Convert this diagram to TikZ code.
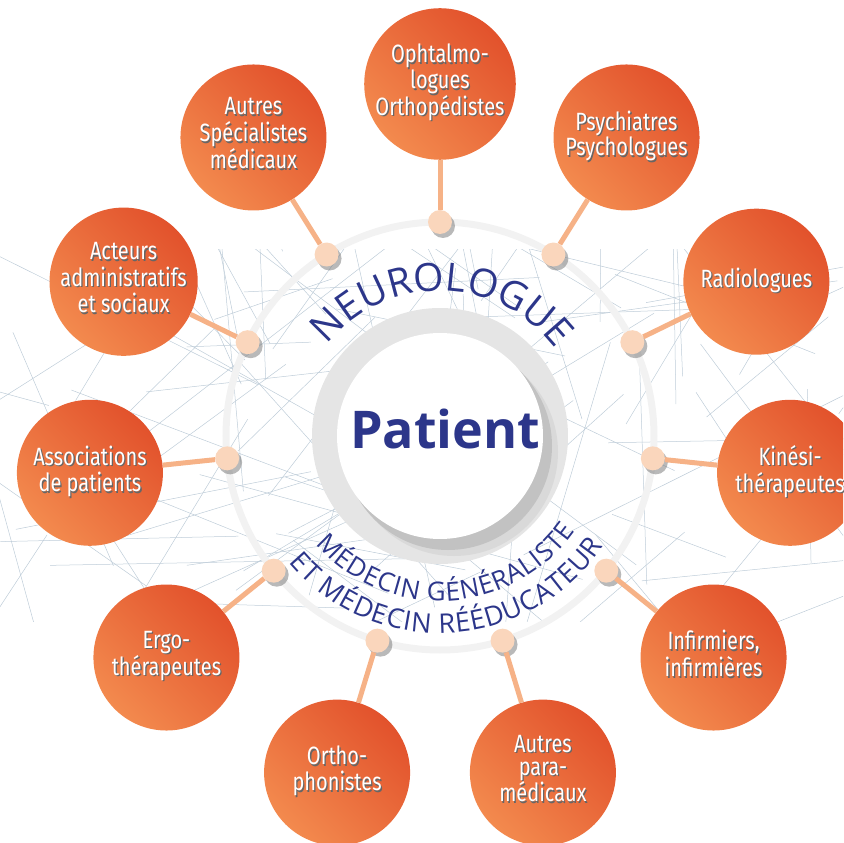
\documentclass[tikz,border=0pt]{standalone}
\usepackage{fontspec}
\setmainfont{Open Sans}
\newfontfamily\bubblefont[FakeStretch=0.8]{Fira Sans}
\usetikzlibrary{shadows,decorations.text}

\definecolor{patientblue}{RGB}{44,54,138}
\definecolor{bubbledark}{RGB}{226,82,44}
\definecolor{bubblelight}{RGB}{243,138,78}
\definecolor{dotfill}{RGB}{250,214,188}
\definecolor{linkcol}{RGB}{246,178,135}
\definecolor{netcol}{RGB}{190,204,216}

\newcommand\arcbig{\fontsize{39}{39}\selectfont}
\newcommand\arcmid{\fontsize{26}{26}\selectfont}
\newcommand\arcsmall{\fontsize{27}{27}\selectfont}
\newcommand\bubbletext[1]{\makebox[0pt][l]{\raisebox{-1.5pt}{\hspace{1.3pt}\textcolor{black!60}{\begin{tabular}{@{}c@{}}#1\end{tabular}}}}\begin{tabular}{@{}c@{}}#1\end{tabular}}

\begin{document}
\begin{tikzpicture}[x=1pt, y=1pt,
    bubble/.style={circle, minimum size=146pt, inner sep=0pt, top color=bubbledark, bottom color=bubblelight, shading angle=-45, text=white, font=\bubblefont\fontsize{25}{23}\selectfont},
    dot/.style={circle, minimum size=24pt, inner sep=0pt, fill=dotfill, drop shadow={shadow xshift=3pt, shadow yshift=-4pt, fill=black!55, opacity=0.5}},
    link/.style={draw=linkcol, line width=5pt},
    net/.style={draw=netcol, line width=0.5pt}]

    \useasboundingbox (-440,-407) rectangle (403,436);
    \clip (-440,-407) rectangle (403,436);

    % network band behind
    \begin{scope}
        \clip (-440,186) rectangle (403,-185);
        \pgfmathsetseed{11}
        \foreach \i in {1,...,120}{
            \pgfmathsetmacro\xa{-480+rnd*920}
            \pgfmathsetmacro\ya{-220+rnd*440}
            \pgfmathsetmacro\ang{rnd*180}
            \pgfmathsetmacro\len{120+rnd*280}
            \draw[net] (\xa,\ya) -- ++(\ang:\len);
        }
    \end{scope}

    \draw[black!5, line width=7pt] (0,0) circle[radius=214];

    \fill[black!10] (0,0) circle[radius=128];
    \fill[black!15] (14,-16) circle[radius=104];
    \fill[black!24] (8,-10) circle[radius=104];
    \fill[white] (0,0) circle[radius=103];

    \node[text=patientblue, font=\fontsize{52}{52}\selectfont\bfseries, anchor=base] (patient) at (5,-13) {Patient};

    {\arcbig
    \path[decorate, decoration={text along path, text align=fit to path, text color=patientblue, text={|\arcbig|NEUROLOGUE}}] (141:145) arc[start angle=141, end angle=40, radius=145];}
    {\arcmid
    \path[decorate, decoration={text along path, text align=fit to path, text color=patientblue, text={|\arcmid|MÉDECIN GÉNÉRALISTE}}] (221:165) arc[start angle=221, end angle=325, radius=165];}
    {\arcsmall
    \path[decorate, decoration={text along path, text align=fit to path, text color=patientblue, text={|\arcsmall|ET MÉDECIN RÉÉDUCATEUR}}] (220:197) arc[start angle=220, end angle=326, radius=197];}

    \node[dot] (d-ophta)   at (90:214)   {};
    \node[dot] (d-psy)     at (58:214)   {};
    \node[dot] (d-radio)   at (26:214)   {};
    \node[dot] (d-kine)    at (-6:214)   {};
    \node[dot] (d-infi)    at (-39:214)  {};
    \node[dot] (d-para)    at (-73:214)  {};
    \node[dot] (d-ortho)   at (-107:214) {};
    \node[dot] (d-ergo)    at (-141:214) {};
    \node[dot] (d-asso)    at (-174:214) {};
    \node[dot] (d-acteurs) at (154:214)  {};
    \node[dot] (d-autres)  at (122:214)  {};

    \node[bubble] (ophta)   at (90:352)   {\bubbletext{Ophtalmo-\\logues\\Orthopédistes}};
    \node[bubble] (psy)     at (58:352)   {\bubbletext{Psychiatres\\Psychologues}};
    \node[bubble] (radio)   at (26:352)   {\bubbletext{Radiologues}};
    \node[bubble] (kine)    at (-6:352)   {\bubbletext{Kinési-\\thérapeutes}};
    \node[bubble] (infi)    at (-39:352)  {\bubbletext{Infirmiers,\\infirmières}};
    \node[bubble] (para)    at (-73:352)  {\bubbletext{Autres\\para-\\médicaux}};
    \node[bubble] (ortho)   at (-107:352) {\bubbletext{Ortho-\\phonistes}};
    \node[bubble] (ergo)    at (-141:352) {\bubbletext{Ergo-\\thérapeutes}};
    \node[bubble] (asso)    at (-174:352) {\bubbletext{Associations\\de patients}};
    \node[bubble] (acteurs) at (154:352)  {\bubbletext{Acteurs\\administratifs\\et sociaux}};
    \node[bubble] (autres)  at (122:352)  {\bubbletext{Autres\\Spécialistes\\médicaux}};

    \draw[link] (d-ophta) -- (ophta);
    \draw[link] (d-psy) -- (psy);
    \draw[link] (d-radio) -- (radio);
    \draw[link] (d-kine) -- (kine);
    \draw[link] (d-infi) -- (infi);
    \draw[link] (d-para) -- (para);
    \draw[link] (d-ortho) -- (ortho);
    \draw[link] (d-ergo) -- (ergo);
    \draw[link] (d-asso) -- (asso);
    \draw[link] (d-acteurs) -- (acteurs);
    \draw[link] (d-autres) -- (autres);
\end{tikzpicture}
\end{document}
